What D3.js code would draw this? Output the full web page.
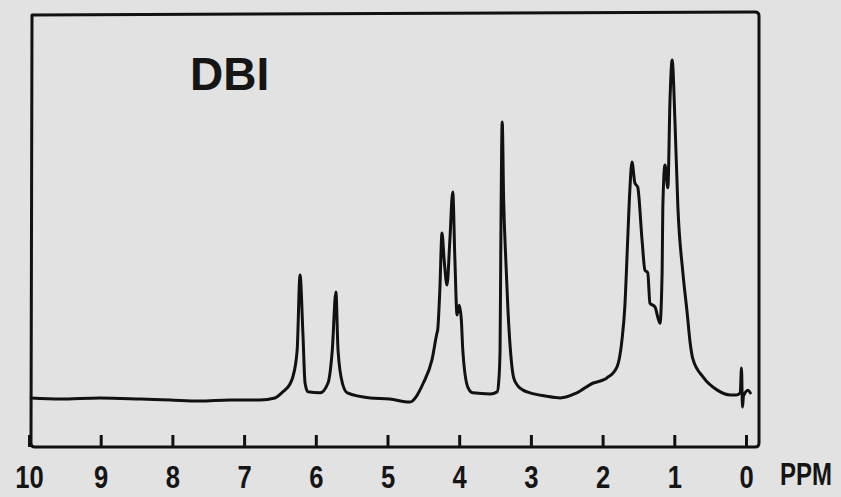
<!DOCTYPE html>
<html>
<head>
<meta charset="utf-8">
<script src="https://cdn.jsdelivr.net/npm/d3@7"></script>
<style>
  body { margin: 0; background: #e2e2e2; }
  svg { display: block; }
  text { font-family: "Liberation Sans", Arial, sans-serif; font-weight: bold; fill: #151515; }
</style>
</head>
<body>
<div id="container"></div>
<script>
var width = 841, height = 497;

// chemical shift (ppm) and relative intensity
var shift = [9.97, 9.57, 9.01, 8.45, 8.03, 7.62, 7.20, 6.78, 6.57, 6.46, 6.36, 6.32, 6.26, 6.22, 6.18, 6.15, 6.11,
    5.94, 5.83, 5.77, 5.72, 5.69, 5.63, 5.56, 5.24, 4.97, 4.69, 4.50, 4.38, 4.31, 4.30, 4.27, 4.24, 4.21, 4.17,
    4.13, 4.09, 4.06, 4.03, 4.00, 3.97, 3.95, 3.88, 3.81, 3.57, 3.47, 3.45, 3.43, 3.42, 3.40, 3.38, 3.35, 3.32,
    3.28, 3.24, 3.18, 3.11, 3.01, 2.80, 2.59, 2.36, 2.13, 1.99, 1.94, 1.80, 1.73, 1.69, 1.65, 1.62, 1.59, 1.55,
    1.51, 1.45, 1.41, 1.37, 1.34, 1.27, 1.20, 1.17, 1.16, 1.13, 1.09, 1.06, 1.03, 0.99, 0.95, 0.88, 0.82, 0.78,
    0.74, 0.60, 0.40, 0.22, 0.13, 0.08, 0.063, 0.049, 0.035, -0.03, -0.06];
var intensity = [0.6, 0.3, 0.6, 0.3, 0, -0.3, 0, 0, 0.6, 2.4, 4.7, 6.8, 14.7, 36.8, 19.7, 5.0, 2.4,
    2.1, 5.0, 14.7, 31.8, 14.7, 5.0, 2.1, 0.6, 0.3, -0.6, 5.0, 11.8, 19.7, 20.6, 32.4, 49.1, 41.2, 33.8,
    47.1, 61.2, 41.2, 25.0, 27.9, 23.5, 14.7, 3.8, 2.1, 1.8, 2.4, 5.0, 14.7, 44.1, 81.8, 58.8, 41.2, 26.5,
    13.2, 6.5, 4.1, 2.9, 2.1, 1.2, 0.6, 2.1, 5.0, 5.9, 6.5, 9.7, 17.6, 27.4, 47.1, 61.8, 70.0, 63.8,
    62.6, 47.1, 38.2, 37.4, 28.5, 27.4, 22.6, 37.4, 56.8, 69.1, 62.4, 88.2, 100, 81.5, 56.8, 37.4, 25.5, 17.0,
    12.0, 6.8, 2.9, 1.5, 1.5, 2.1, 9.4, -2.1, 1.2, 2.9, 2.1];

var tickValues = [10, 9, 8, 7, 6, 5, 4, 3, 2, 1, 0];
var title = "DBI";
var unit = "PPM";

var svg = d3.select("#container")
    .append("svg")
    .attr("width", width)
    .attr("height", height);

var x = d3.scaleLinear().domain([10, 0]).range([29, 746]);
var y = d3.scaleLinear().domain([0, 100]).range([400, 60]);

// frame of the plotter chart
svg.append("path")
    .attr("d", "M32,15 L31,443 Q31,447 35,447 L755,447 Q759,447 759,443 L759,16 Q759,12 755,12 Z")
    .attr("fill", "none")
    .attr("stroke", "#111")
    .attr("stroke-width", 3)
    .attr("stroke-linejoin", "round");

// ppm axis with short ticks pointing up
var axis = svg.append("g")
    .attr("transform", "translate(0,447)")
    .call(d3.axisBottom(x)
        .tickValues(tickValues)
        .tickSizeInner(-12)
        .tickSizeOuter(0)
        .tickPadding(18)
        .tickFormat(d3.format("d")));

axis.select(".domain").remove();
axis.selectAll(".tick line")
    .attr("stroke", "#111")
    .attr("stroke-width", 3);
axis.selectAll(".tick text")
    .attr("font-size", 32)
    .attr("transform", "scale(0.8,1)")
    .attr("fill", "#151515");

// narrow plotter lettering: squeeze horizontally
svg.append("text")
    .attr("transform", "translate(780,485) scale(0.75,1)")
    .attr("font-size", 32)
    .text(unit);

svg.append("text")
    .attr("x", 190)
    .attr("y", 90)
    .attr("font-size", 46)
    .text(title);

// the spectrum trace
var points = shift.map(function(d, i) { return [d, intensity[i]]; });

var line = d3.line()
    .x(function(d) { return x(d[0]); })
    .y(function(d) { return y(d[1]); })
    .curve(d3.curveMonotoneX);

svg.append("path")
    .datum(points)
    .attr("d", line)
    .attr("fill", "none")
    .attr("stroke", "#111")
    .attr("stroke-width", 3)
    .attr("stroke-linejoin", "round")
    .attr("stroke-linecap", "round");
</script>
</body>
</html>
